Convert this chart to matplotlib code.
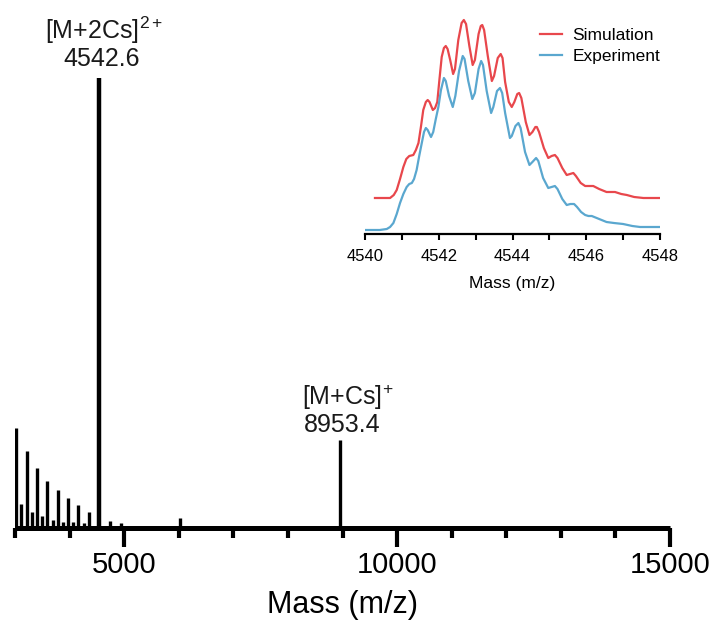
import matplotlib
matplotlib.use("Agg")
import matplotlib.pyplot as plt
from matplotlib.ticker import MultipleLocator, FixedLocator

plt.rcParams['font.family'] = ['Liberation Sans', 'DejaVu Sans']
plt.rcParams['mathtext.fontset'] = 'custom'
plt.rcParams['mathtext.rm'] = 'Liberation Sans'
plt.rcParams['mathtext.it'] = 'Liberation Sans:italic'
plt.rcParams['mathtext.bf'] = 'Liberation Sans:bold'

# main spectrum, stick peaks (m/z, intensity in arbitrary units)
peak_mass = [3025, 3110, 3213, 3305, 3403, 3500, 3593, 3690, 3783, 3880,
             3973, 4070, 4163, 4260, 4353, 4542.6, 4740, 4936, 6020, 8953.4]
peak_int = [99.5, 24, 76.5, 16, 59.5, 12, 47, 8, 37.5, 6,
            30, 6, 22.5, 5, 16, 450, 7, 5, 9.5, 87.5]

# inset isotope envelope
sim_mass = [4540.27, 4540.68, 4540.78, 4540.86, 4540.95, 4541.04, 4541.12, 4541.20,
            4541.31, 4541.38, 4541.45, 4541.52, 4541.58, 4541.65, 4541.70, 4541.75,
            4541.84, 4541.90, 4541.96, 4542.02, 4542.08, 4542.14, 4542.19, 4542.24,
            4542.31, 4542.39, 4542.44, 4542.53, 4542.62, 4542.68, 4542.74, 4542.83,
            4542.92, 4542.98, 4543.08, 4543.14, 4543.18, 4543.23, 4543.33, 4543.44,
            4543.50, 4543.60, 4543.68, 4543.73, 4543.80, 4543.90, 4543.98, 4544.05,
            4544.13, 4544.18, 4544.24, 4544.36, 4544.46, 4544.54, 4544.62, 4544.66,
            4544.72, 4544.85, 4544.97, 4545.06, 4545.15, 4545.22, 4545.35, 4545.47,
            4545.56, 4545.65, 4545.72, 4545.85, 4545.97, 4546.08, 4546.19, 4546.35,
            4546.55, 4546.78, 4546.95, 4547.10, 4547.30, 4547.55, 4548.00]
sim_int = [36, 36, 39, 44, 55, 67, 75, 78,
           79, 84, 91, 108, 124, 132, 134, 132,
           124, 126, 132, 155, 177, 186, 188, 185,
           174, 160, 165, 194, 211, 214, 210, 188,
           169, 174, 200, 208, 209, 204, 178, 153,
           158, 176, 180, 176, 152, 132, 127, 132,
           140, 141, 136, 112, 99, 102, 107, 107,
           102, 86, 76, 78, 79, 76, 66, 59,
           60, 61, 58, 51, 48, 48, 48, 45,
           42, 42, 40, 39, 37, 36, 36]

exp_mass = [4540.00, 4540.40, 4540.59, 4540.68, 4540.77, 4540.86, 4540.95, 4541.04,
            4541.13, 4541.20, 4541.27, 4541.33, 4541.40, 4541.47, 4541.54, 4541.60,
            4541.65, 4541.70, 4541.79, 4541.85, 4541.92, 4541.99, 4542.06, 4542.14,
            4542.19, 4542.28, 4542.38, 4542.45, 4542.55, 4542.65, 4542.70, 4542.80,
            4542.91, 4542.98, 4543.08, 4543.15, 4543.20, 4543.30, 4543.42, 4543.48,
            4543.58, 4543.66, 4543.72, 4543.80, 4543.93, 4543.98, 4544.08, 4544.16,
            4544.22, 4544.34, 4544.46, 4544.54, 4544.64, 4544.70, 4544.83, 4544.97,
            4545.06, 4545.15, 4545.22, 4545.35, 4545.47, 4545.57, 4545.67, 4545.75,
            4545.86, 4545.97, 4546.06, 4546.15, 4546.35, 4546.55, 4546.75, 4547.00,
            4547.25, 4547.46, 4547.75, 4548.00]
exp_int = [4, 4, 5, 7, 11, 20, 31, 40,
           47, 50, 51, 55, 64, 78, 91, 102,
           106, 104, 97, 102, 115, 127, 144, 156,
           153, 138, 127, 138, 163, 178, 175, 153,
           135, 141, 165, 173, 169, 143, 121, 127,
           143, 146, 141, 121, 96, 98, 108, 111,
           106, 82, 69, 72, 76, 73, 56, 46,
           47, 48, 45, 35, 29, 30, 30, 27,
           22, 19, 18, 18, 15, 12, 11, 10,
           8, 7, 7, 7]

W, H = 711, 624
fig = plt.figure(figsize=(W / 100, H / 100), dpi=100)

# main axes
ax = fig.add_axes([15 / W, 1 - 527.5 / H, 655 / W, 527.5 / H])
lw = [3.2 if m == 4542.6 else 2.4 for m in peak_mass]
ax.vlines(peak_mass, 0, peak_int, colors='black', linewidth=lw)
ax.set_xlim(3000, 15000)
ax.set_ylim(0, 527.5)
for s in ['top', 'left', 'right']:
    ax.spines[s].set_visible(False)
ax.spines['bottom'].set_linewidth(3.6)
ax.spines['bottom'].set_capstyle('butt')
ax.set_yticks([])
ax.xaxis.set_major_locator(FixedLocator([5000, 10000, 15000]))
ax.xaxis.set_minor_locator(MultipleLocator(1000))
ax.tick_params(axis='x', which='major', length=14, width=3, labelsize=21, pad=3)
ax.tick_params(axis='x', which='minor', length=7.5, width=3)
ax.set_xlabel('Mass (m/z)', fontsize=22, labelpad=8)
ax.patch.set_alpha(0)

tc = '#1a1a1a'
ax.text(4639, 489, '[M+2Cs]$^{2+}$', ha='center', va='baseline', fontsize=18, color=tc)
ax.text(4593, 461, '4542.6', ha='center', va='baseline', fontsize=18, color=tc)
ax.text(9099, 123, '[M+Cs]$^{+}$', ha='center', va='baseline', fontsize=18, color=tc)
ax.text(8998, 95.5, '8953.4', ha='center', va='baseline', fontsize=18, color=tc)

# inset
ax2 = fig.add_axes([365 / W, 1 - 234 / H, 295 / W, 224 / H])
ax2.plot(sim_mass, sim_int, color='#e8474c', linewidth=1.6, label='Simulation')
ax2.plot(exp_mass, exp_int, color='#5aa7cf', linewidth=1.6, label='Experiment')
ax2.set_xlim(4540, 4548)
ax2.set_ylim(0, 224)
for s in ['top', 'left', 'right']:
    ax2.spines[s].set_visible(False)
ax2.spines['bottom'].set_linewidth(1.6)
ax2.set_yticks([])
ax2.xaxis.set_major_locator(MultipleLocator(2))
ax2.xaxis.set_minor_locator(MultipleLocator(1))
ax2.tick_params(axis='x', which='major', length=4.5, width=1.5, labelsize=12, pad=6)
ax2.tick_params(axis='x', which='minor', length=4.5, width=1.5)
ax2.set_xlabel('Mass (m/z)', fontsize=12.5, labelpad=9)
ax2.patch.set_alpha(0)
ax2.legend(loc='upper right', bbox_to_anchor=(1.035, 0.965), frameon=False, fontsize=12.5,
           handlelength=1.25, handletextpad=0.6, labelspacing=0.3, borderaxespad=0.2)

fig.savefig('out.png', dpi=100)
